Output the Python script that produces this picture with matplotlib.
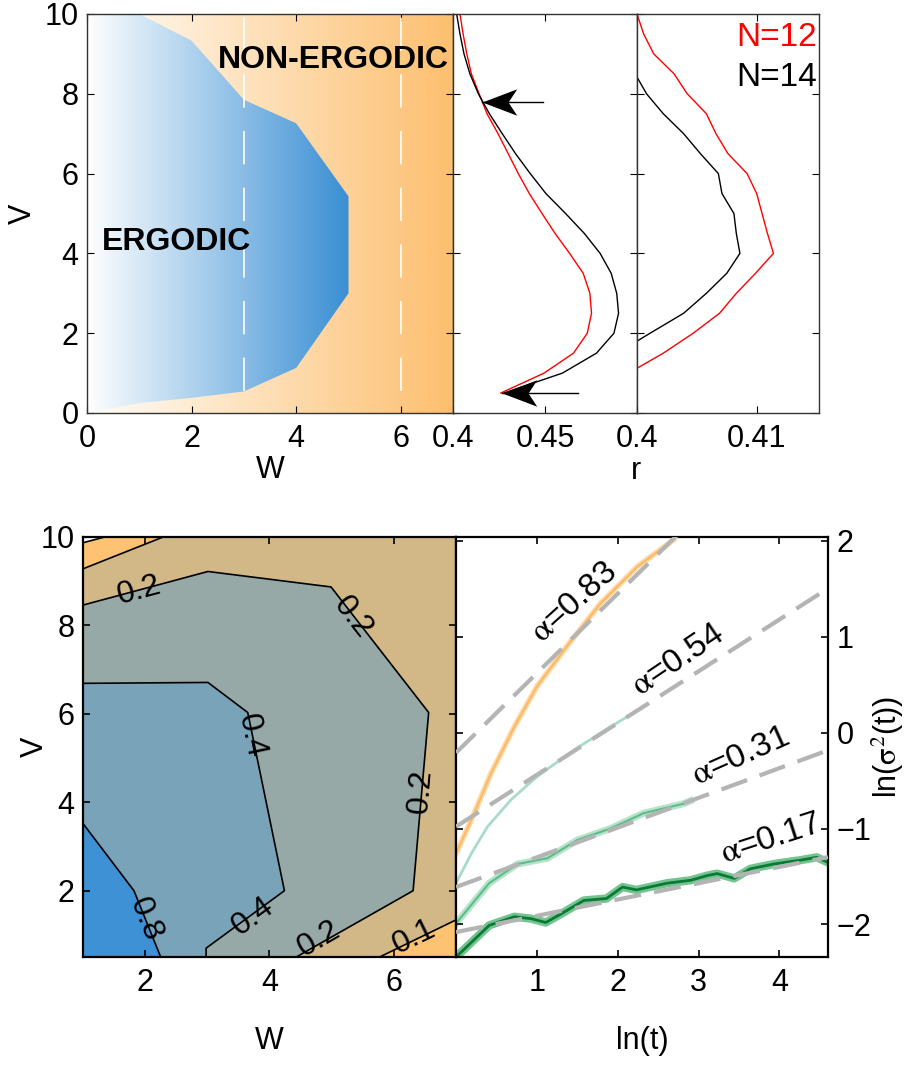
"""
Phase diagram, level-statistics cuts and spreading exponents.
"""

import numpy as np
import matplotlib
matplotlib.use("Agg")
import matplotlib.pyplot as plt
from matplotlib.colors import LinearSegmentedColormap
from matplotlib.path import Path as MPath

plt.rcParams['font.family'] = ['Liberation Sans', 'DejaVu Sans']
plt.rcParams['mathtext.fontset'] = 'stix'
plt.rcParams['font.size'] = 22
plt.rcParams['xtick.direction'] = 'in'
plt.rcParams['ytick.direction'] = 'in'
plt.rcParams['xtick.major.size'] = 5
plt.rcParams['ytick.major.size'] = 5
plt.rcParams['xtick.major.pad'] = 8
plt.rcParams['ytick.major.pad'] = 6

# ------------------------------------------------------------
# Data
# ------------------------------------------------------------

# phase diagram: ergodic region boundary
erg_w = [0, 1, 2, 3, 4, 5]
erg_low = [0.0, 0.25, 0.38, 0.54, 1.13, 3.0]
erg_high = [10.0, 10.0, 9.33, 7.85, 7.26, 5.43]
cut_w = [3, 6]

# r(V) along the cuts, N=12 (red) and N=14 (black)
v_mid = [10, 9.5, 9, 8.5, 8, 7.5, 7, 6.5, 6, 5.5,
         5, 4.5, 4, 3.5, 3, 2.5, 2, 1.5, 1, 0.5]
r12_mid = [0.4038, 0.4055, 0.4075, 0.4100, 0.4142, 0.4185, 0.4245, 0.4300,
           0.4355, 0.4415, 0.4484, 0.4555, 0.4634, 0.4708, 0.4744, 0.4753,
           0.4730, 0.4655, 0.4495, 0.4260]
r14_mid = [0.4020, 0.4038, 0.4060, 0.4092, 0.4138, 0.4198, 0.4268, 0.4340,
           0.4420, 0.4505, 0.4612, 0.4714, 0.4800, 0.4860, 0.4890, 0.4900,
           0.4875, 0.4780, 0.4595, 0.4277]

arrow_v = [7.8, 0.5]
arrow_tip = [0.4158, 0.4268]
arrow_tail = [0.4487, 0.4680]

v12_right = [10, 9.5, 9, 8.5, 8, 7.5, 7, 6.5, 6, 5.5, 5, 4.5, 4,
             3.5, 3, 2.5, 2, 1.5, 1.12]
r12_right = [0.4000, 0.40056, 0.4014, 0.4031, 0.4042, 0.4058, 0.4066,
             0.4076, 0.4092, 0.4100, 0.41045, 0.4109, 0.4114, 0.4099,
             0.4083, 0.4069, 0.4047, 0.4022, 0.4000]
v14_right = [8.42, 8, 7.5, 7, 6.5, 6, 5.5, 5, 4.5, 4, 3.5, 3, 2.5, 2, 1.8]
r14_right = [0.4000, 0.4008, 0.4022, 0.4039, 0.4053, 0.4068, 0.4071,
             0.4081, 0.4083, 0.4086, 0.4075, 0.4058, 0.4039, 0.4011, 0.4000]

# contour lines of the (W, V) map
c005_w = [1.0, 1.35]
c005_v = [9.87, 10.0]
c01a_w = [1.0, 2.29]
c01a_v = [9.28, 10.0]
c01b_w = [5.77, 7.0]
c01b_v = [0.5, 1.34]
c02_w = [1.0, 3.01, 4.99, 6.56, 6.31, 4.43]
c02_v = [8.46, 9.22, 8.87, 6.03, 2.0, 0.5]
c04_w = [1.0, 3.01, 3.65, 4.24, 2.98, 2.98]
c04_v = [6.69, 6.71, 6.03, 2.0, 0.7, 0.5]
c08_w = [1.0, 1.82, 2.25]
c08_v = [3.52, 2.0, 0.5]

clabel_w = [1.9, 5.34, 6.44, 3.7, 3.73, 2.0, 4.8, 6.33]
clabel_v = [8.8, 8.18, 4.25, 5.5, 1.41, 1.34, 0.9, 0.96]
clabel_txt = ['0.2', '0.2', '0.2', '0.4', '0.4', '0.8', '0.2', '0.1']
clabel_rot = [15, -52, 85, -78, 36, -68, 30, 26]

# ln(sigma^2) vs ln(t)
lt_a = [0, 0.19, 0.43, 0.72, 1.0, 1.37, 1.79, 2.24, 2.69]
ls_a = [-1.26, -0.91, -0.43, 0.06, 0.48, 0.90, 1.35, 1.73, 2.01]
lt_b = [0, 0.19, 0.39, 0.68, 1.0, 1.46, 1.91, 2.36]
ls_b = [-1.57, -1.26, -0.98, -0.70, -0.46, -0.18, 0.06, 0.29]
lt_c = [0, 0.41, 0.76, 1.13, 1.50, 1.91, 2.32, 2.57, 2.82, 2.9]
ls_c = [-1.99, -1.57, -1.37, -1.31, -1.12, -1.00, -0.84, -0.79, -0.74, -0.71]
lt_d = [0, 0.41, 0.72, 0.93, 1.11, 1.30, 1.58, 1.86, 2.06, 2.23, 2.61, 2.90,
        3.11, 3.23, 3.44, 3.64, 3.93, 4.09, 4.26, 4.46, 4.59]
ls_d = [-2.34, -2.01, -1.92, -1.94, -1.98, -1.89, -1.75, -1.73, -1.61, -1.64,
        -1.57, -1.54, -1.49, -1.47, -1.52, -1.42, -1.37, -1.35, -1.33, -1.30,
        -1.35]

alphas = [0.83, 0.54, 0.31, 0.17]
fit_b = [-0.21, -0.98, -1.61, -2.08]
alpha_lt = [1.46, 2.74, 3.52, 3.89]
alpha_ls = [1.35, 0.75, -0.25, -1.11]
alpha_rot = [42, 34, 24, 18]

# ------------------------------------------------------------
# Figure
# ------------------------------------------------------------

fig = plt.figure(figsize=(9.19, 10.68), dpi=100)

ax1 = fig.add_axes([0.0947, 0.6133, 0.3983, 0.3736])
ax2 = fig.add_axes([0.4929, 0.6133, 0.2002, 0.3736])
ax3 = fig.add_axes([0.6931, 0.6133, 0.1980, 0.3736])
ax4 = fig.add_axes([0.0903, 0.1039, 0.4059, 0.3933])
ax5 = fig.add_axes([0.4962, 0.1039, 0.4048, 0.3933])

orange_cm = LinearSegmentedColormap.from_list('o', ['#fffdfa', '#fdbf6f'])
blue_cm = LinearSegmentedColormap.from_list('b', ['#ffffff', '#3a8fd3'])
grad = np.linspace(0, 1, 256)[None, :]

# --- phase diagram
ax1.imshow(grad, extent=[0, 7, 0, 10], cmap=orange_cm, aspect='auto',
           origin='lower', zorder=0)
verts = list(zip(erg_w, erg_low)) + list(zip(erg_w[::-1], erg_high[::-1]))
erg_patch = plt.Polygon(verts, closed=True, facecolor='none',
                        edgecolor='none')
ax1.add_patch(erg_patch)
im = ax1.imshow(grad, extent=[0, 5, 0, 10], cmap=blue_cm, aspect='auto',
                origin='lower', zorder=1)
im.set_clip_path(erg_patch)
for w in cut_w:
    ax1.plot([w, w], [erg_low[3], 10], color='white', lw=1.2,
             dashes=(20, 14), zorder=2)
ax1.text(4.72, 8.85, 'NON-ERGODIC', fontsize=23, fontweight='bold',
         ha='center', va='center')
ax1.text(1.71, 4.28, 'ERGODIC', fontsize=23, fontweight='bold',
         ha='center', va='center')
ax1.set_xlim(0, 7)
ax1.set_ylim(0, 10)
ax1.set_xticks([0, 2, 4, 6])
ax1.set_yticks([0, 2, 4, 6, 8, 10])
ax1.set_xlabel('W')
ax1.set_ylabel('V')
ax1.xaxis.set_label_coords(0.5, -0.105)
ax1.yaxis.set_label_coords(-0.133, 0.5)

# --- r along the cuts
ax2.plot(r12_mid, v_mid, color='red', lw=1)
ax2.plot(r14_mid, v_mid, color='black', lw=1)
head = MPath([(0, 0), (1, 0.38), (0.75, 0), (1, -0.38), (0, 0)],
             [1, 2, 2, 2, 79])
for v, tip, tail in zip(arrow_v, arrow_tip, arrow_tail):
    ax2.plot([tip, tail], [v, v], color='black', lw=1)
    ax2.plot([tip], [v], marker=head, markersize=50, color='black',
             markeredgewidth=0, clip_on=False)
ax2.set_xlim(0.4, 0.5)
ax2.set_ylim(0, 10)
ax2.set_xticks([0.4, 0.45, 0.5])
ax2.set_xticklabels(['0.4', '0.45', ''])
ax2.set_yticks([0, 2, 4, 6, 8, 10])
ax2.set_yticklabels([])

ax3.plot(r12_right, v12_right, color='red', lw=1)
ax3.plot(r14_right, v14_right, color='black', lw=1)
ax3.text(0.99, 0.94, 'N=12', color='red', fontsize=24, ha='right',
         va='center', transform=ax3.transAxes)
ax3.text(0.99, 0.84, 'N=14', color='black', fontsize=24, ha='right',
         va='center', transform=ax3.transAxes)
ax3.set_xlim(0.4, 0.4152)
ax3.set_ylim(0, 10)
ax3.set_xticks([0.4, 0.41])
ax3.set_xticklabels(['0.4', '0.41'])
ax3.set_yticks([0, 2, 4, 6, 8, 10])
ax3.set_yticklabels([])
fig.text(636 / 919, 1 - 471 / 1068, 'r', ha='center', va='center')

for ax in (ax1, ax2, ax3):
    ax.tick_params(top=True, right=True)
    for s in ax.spines.values():
        s.set_linewidth(1.0)
        s.set_color('#333333')

# --- contour map
w0, w1, v0, v1 = 1, 7, 0.5, 10
ax4.set_facecolor('#d2b787')
ax4.fill(c01a_w + [w0], c01a_v + [v1], color='#fdc272', lw=0)
ax4.fill(c005_w + [w0], c005_v + [v1], color='white', lw=0)
ax4.fill(c01b_w + [w1], c01b_v + [v0], color='#fdc272', lw=0)
ax4.fill(c02_w + [w0], c02_v + [v0], color='#96a9a6', lw=0)
ax4.fill(c04_w + [w0], c04_v + [v0], color='#79a3b8', lw=0)
ax4.fill(c08_w + [w0], c08_v + [v0], color='#3e91d4', lw=0)
for cw, cv in [(c005_w, c005_v), (c01a_w, c01a_v), (c01b_w, c01b_v),
               (c02_w, c02_v), (c04_w, c04_v), (c08_w, c08_v)]:
    ax4.plot(cw, cv, color='black', lw=1.2)
for w, v, t, rot in zip(clabel_w, clabel_v, clabel_txt, clabel_rot):
    ax4.text(w, v, t, rotation=rot, rotation_mode='anchor', ha='center',
             va='center', fontsize=23, clip_on=True)
ax4.set_xlim(w0, w1)
ax4.set_ylim(v0, v1)
ax4.set_xticks([2, 4, 6])
ax4.set_yticks([2, 4, 6, 8, 10])
ax4.set_xlabel('W')
ax4.set_ylabel('V')
ax4.xaxis.set_label_coords(0.5, -0.165)
ax4.yaxis.set_label_coords(-0.088, 0.5)
ax4.tick_params(top=True, right=True)

# --- spreading
lt_grid = np.array([0, 4.6])
for a, b in zip(alphas, fit_b):
    ax5.plot(lt_grid, a * lt_grid + b, color='#b4b4b4', lw=3,
             dashes=(6.5, 3.2), zorder=3)
ax5.plot(lt_a, ls_a, color='#fdd9a8', lw=4, zorder=1)
ax5.plot(lt_a, ls_a, color='#fdb863', lw=1.5, zorder=2)
ax5.plot(lt_b, ls_b, color='#a8dcc8', lw=2, zorder=2)
ax5.plot(lt_c, ls_c, color='#b6e3c9', lw=5, zorder=1)
ax5.plot(lt_c, ls_c, color='#5cbc8a', lw=1.5, zorder=2)
ax5.plot(lt_d, ls_d, color='#74c491', lw=6, zorder=1)
ax5.plot(lt_d, ls_d, color='#0a7a35', lw=2, zorder=2)
for a, x, y, rot in zip(alphas, alpha_lt, alpha_ls, alpha_rot):
    ax5.text(x, y, r'$\mathrm{\alpha}$=%.2f' % a, rotation=rot,
             rotation_mode='anchor', ha='center', va='center', fontsize=24)
ax5.set_xlim(0, 4.6)
ax5.set_ylim(-2.34, 2.04)
ax5.set_xticks([1, 2, 3, 4])
ax5.set_yticks([-2, -1, 0, 1, 2])
ax5.yaxis.tick_right()
ax5.yaxis.set_label_position('right')
ax5.tick_params(top=True, left=True, right=True)
ax5.set_xlabel('ln(t)')
ax5.set_ylabel(r'ln($\mathrm{\sigma}^2$(t))')
ax5.xaxis.set_label_coords(0.5, -0.165)
ax5.yaxis.set_label_coords(1.113, 0.5)

for ax in (ax4, ax5):
    for s in ax.spines.values():
        s.set_linewidth(1.6)
    ax.tick_params(width=1.2)

fig.savefig('out.png', dpi=100)
